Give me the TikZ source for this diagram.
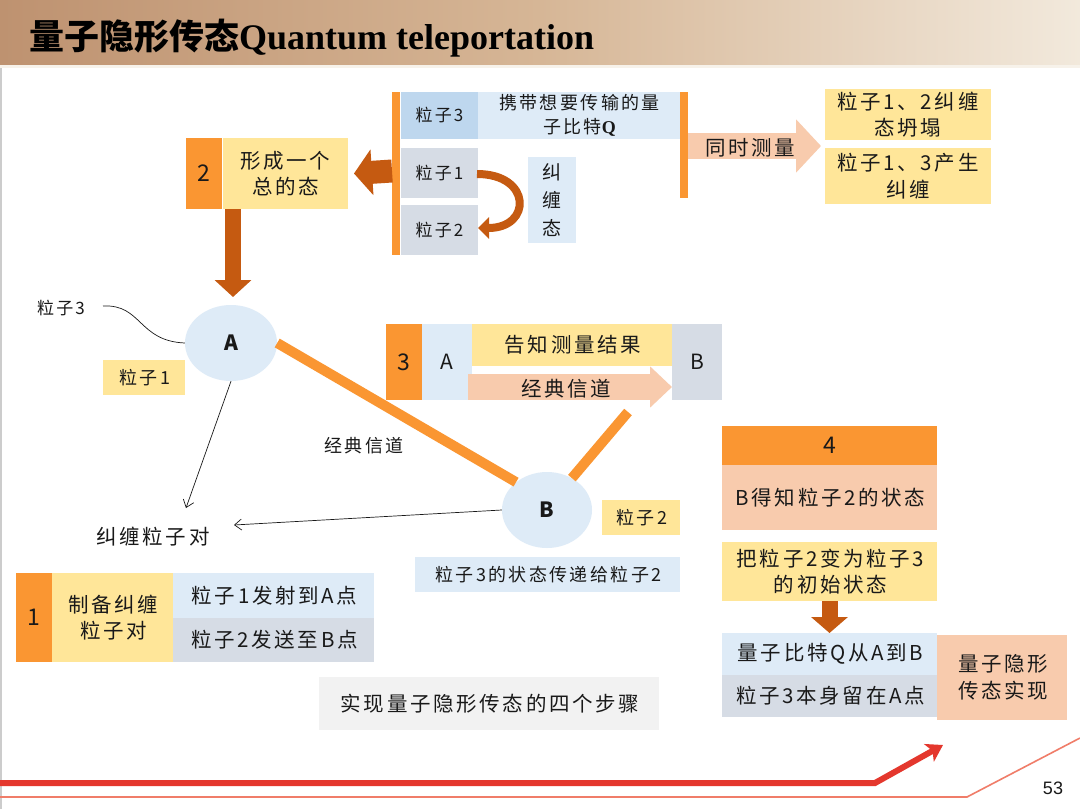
\documentclass[tikz,border=0pt]{standalone}
\usepackage{fontspec}
\setmainfont{Noto Sans CJK SC}[LetterSpace=13]
\newfontfamily\cjkplain{Noto Sans CJK SC}
\newfontfamily\latserif{Liberation Serif}
\newfontfamily\latsans{Liberation Sans}
\usetikzlibrary{arrows.meta,shapes.geometric}

\definecolor{orng}{RGB}{250,150,50}
\definecolor{brn}{RGB}{197,90,17}
\definecolor{lblue}{RGB}{222,235,247}
\definecolor{mblue}{RGB}{190,215,238}
\definecolor{gblue}{RGB}{214,220,229}
\definecolor{ylw}{RGB}{255,230,153}
\definecolor{slm}{RGB}{248,203,173}
\definecolor{lgray}{RGB}{242,242,242}
\definecolor{redc}{RGB}{228,55,45}
\definecolor{redl}{RGB}{240,125,105}
\definecolor{bandL}{RGB}{190,146,112}
\definecolor{bandM}{RGB}{214,182,150}
\definecolor{bandR}{RGB}{242,233,220}
\definecolor{txt}{RGB}{25,25,25}

\begin{document}
\begin{tikzpicture}[x=1pt,y=-1pt,
  box/.style={inner sep=0pt, outer sep=0pt, align=center, text=txt},
  tA/.style={font=\fontsize{17}{23}\selectfont},
  tB/.style={font=\fontsize{18}{24}\selectfont},
  tC/.style={font=\fontsize{20.5}{26.5}\selectfont},
  tD/.style={font=\fontsize{23}{27}\selectfont},
  sz/.style 2 args={minimum width=#1pt, minimum height=#2pt},
  thin arrow/.style={draw=txt, line width=0.7pt, -{Straight Barb[length=7pt,width=11pt]}},
  circ/.style={ellipse, fill=lblue, inner sep=0pt, font=\fontsize{21}{21}\selectfont\bfseries, text=txt},
  orline/.style={draw=orng, line width=10pt}
]
\useasboundingbox (0,0) rectangle (1080,809);
\fill[white] (0,0) rectangle (1080,809);

% title band
\shade[left color=bandL, right color=bandM] (0,0) rectangle (540,65);
\shade[left color=bandM, right color=bandR] (540,0) rectangle (1080,65);
\fill[bandR!60!white] (0,65) rectangle (1080,68);
\draw[gray!40, line width=1.5pt] (0.75,68) -- (0.75,809);
\node[anchor=west, text=black, inner sep=0pt] (title) at (29,38)
  {\cjkplain\fontsize{35}{35}\selectfont\bfseries 量子隐形传态{\latserif\fontsize{36}{36}\selectfont\bfseries Quantum teleportation}};

% ---- top group
\node[box, fill=orng, sz={8}{163}] (barL) at (396,173.5) {};
\node[box, fill=mblue, sz={77}{47}, tA] (p3) at (439.5,115.5) {粒子3};
\node[box, fill=lblue, sz={203}{47}, tB] (q) at (579.5,115.5) {携带想要传输的量\\子比特{\latserif\bfseries Q}};
\node[box, fill=orng, sz={8}{106}] (barR) at (684,145) {};
\node[box, fill=gblue, sz={77}{50}, tA] (p1) at (439.5,173) {粒子1};
\node[box, fill=gblue, sz={77}{50}, tA] (p2) at (439.5,230) {粒子2};
\node[box, fill=lblue, sz={48}{86}, font=\fontsize{19}{28}\selectfont] (ent) at (552,200) {纠\\缠\\态};
\node[box, fill=orng, sz={36}{71}, tD] (s2n) at (204,173.5) {2};
\node[box, fill=ylw, sz={125}{71}, tC] (s2t) at (285.5,173.5) {形成一个\\总的态};
\node[box, fill=ylw, sz={166}{51}, tC] (r1) at (908,114.5) {粒子1、2纠缠\\态坍塌};
\node[box, fill=ylw, sz={166}{56}, tC] (r2) at (908,176) {粒子1、3产生\\纠缠};

% curved arrow particle1 -> particle2
\draw[brn, line width=8pt, -{Triangle[length=11pt,width=21pt]}]
  ([xshift=-1pt,yshift=-1pt]p1.east) .. controls (532,174) and (532,228) .. ([yshift=2pt]p2.east);
% left block arrow to step 2
\coordinate (la1) at (392,171);
\draw[brn, line width=23pt, -{Triangle[length=18pt,width=45pt]}] (la1) -- (s2t.east -| 354,0);
% measure arrow
\coordinate (ma1) at (688,146);
\coordinate (ma2) at (821,146);
\draw[slm, line width=26pt, -{Triangle[length=25pt,width=52pt]}] (ma1) -- (ma2);
\node[box, tC] (meas) at (750,148) {同时测量};
% down arrow step 2 -> A
\draw[brn, line width=16pt, -{Triangle[length=17pt,width=36pt]}] ([xshift=29pt]s2n.south) -- (233,297);

% ---- middle
\node[circ, minimum width=92pt, minimum height=76pt] (A) at (231,343) {A};
\node[circ, minimum width=90pt, minimum height=76pt] (B) at (547,510) {B};
\node[box, tA] (lab3) at (61,308) {粒子3};
\draw[txt, line width=0.7pt] (103,306) .. controls (142,304) and (138,341) .. (A.west);
\node[box, fill=ylw, sz={82}{35}, tB] (lab1) at (144,377.5) {\hspace*{2pt}粒子1};
\node[box, tC] (pair) at (153,537) {纠缠粒子对};
\coordinate (pairN) at (186,508);
\coordinate (pairE) at (234,525);
\draw[thin arrow] (A.south) -- (pairN);
\draw[thin arrow] (B.west) -- (pairE);
\draw[orline] (A.east) -- (B.138);
\coordinate (bl) at (628,412);
\draw[orline] (B.52) -- (bl);
\node[box, tB] (chan) at (364,446) {经典信道};
\node[box, fill=ylw, sz={78}{35}, tB] (lab2) at (641,517.5) {\hspace*{2pt}粒子2};
\node[box, fill=lblue, sz={265}{35}, tB] (st) at (547.5,574.5) {\hspace*{2pt}粒子3的状态传递给粒子2};

% ---- step 3
\node[box, fill=orng, sz={36}{76}, tD] (s3n) at (404,362) {3};
\node[box, fill=lblue, sz={50}{76}, font=\fontsize{21}{21}\selectfont] (s3A) at (447,362) {A};
\node[box, fill=ylw, sz={200}{42}, tC] (s3t) at (572,345) {\hspace*{2pt}告知测量结果};
\node[box, fill=gblue, sz={50}{76}, font=\fontsize{21}{21}\selectfont] (s3B) at (697,362) {B};
\coordinate (ca1) at (468,387);
\draw[slm, line width=26pt, -{Triangle[length=22pt,width=40pt]}] (ca1) -- (s3B.west |- ca1);
\node[box, tC] (ch3) at (566,389) {经典信道};

% ---- step 4
\node[box, fill=orng, sz={215}{39}, tD] (s4n) at (829.5,445.5) {4};
\node[box, fill=slm, sz={215}{65}, tC] (s4a) at (829.5,497.5) {\hspace*{2pt}B得知粒子2的状态};
\node[box, fill=ylw, sz={215}{59}, tC] (s4b) at (829.5,571.5) {\hspace*{2pt}把粒子2变为粒子3\\\hspace*{2pt}的初始状态};
\node[box, fill=lblue, sz={215}{42}, tC] (s4c) at (829.5,654) {\hspace*{2pt}量子比特Q从A到B};
\node[box, fill=gblue, sz={215}{42}, tC] (s4d) at (829.5,696) {\hspace*{2pt}粒子3本身留在A点};
\node[box, fill=slm, sz={130}{85}, tC] (s4e) at (1002,677.5) {\hspace*{2pt}量子隐形\\\hspace*{2pt}传态实现};
\draw[brn, line width=16pt, -{Triangle[length=16pt,width=36pt]}] (s4b.south) -- (s4c.north);

% ---- step 1
\node[box, fill=orng, sz={36}{89}, tD] (s1n) at (34,617.5) {1};
\node[box, fill=ylw, sz={121}{89}, tC] (s1t) at (112.5,617.5) {\hspace*{2pt}制备纠缠\\\hspace*{2pt}粒子对};
\node[box, fill=lblue, sz={201}{45}, tC] (s1a) at (273.5,595.5) {\hspace*{2pt}粒子1发射到A点};
\node[box, fill=gblue, sz={201}{44}, tC] (s1b) at (273.5,640) {\hspace*{2pt}粒子2发送至B点};

\node[box, fill=lgray, sz={340}{53}, tC] (cap) at (489,703.5) {\hspace*{2pt}实现量子隐形传态的四个步骤};

% ---- footer
\coordinate (f1) at (0,783);
\coordinate (f2) at (875,783);
\coordinate (f3) at (943,745);
\draw[redc, line width=6pt, -{Stealth[length=16pt,width=20pt,inset=4pt]}] (f1) -- (f2) -- (f3);
\coordinate (g1) at (0,797);
\coordinate (g2) at (967,797);
\coordinate (g3) at (1080,738);
\draw[redl, line width=1.6pt] (g1) -- (g2) -- (g3);
\node[box, font=\latsans\fontsize{18}{18}\selectfont] (pg) at (1053,788) {53};
\end{tikzpicture}
\end{document}
